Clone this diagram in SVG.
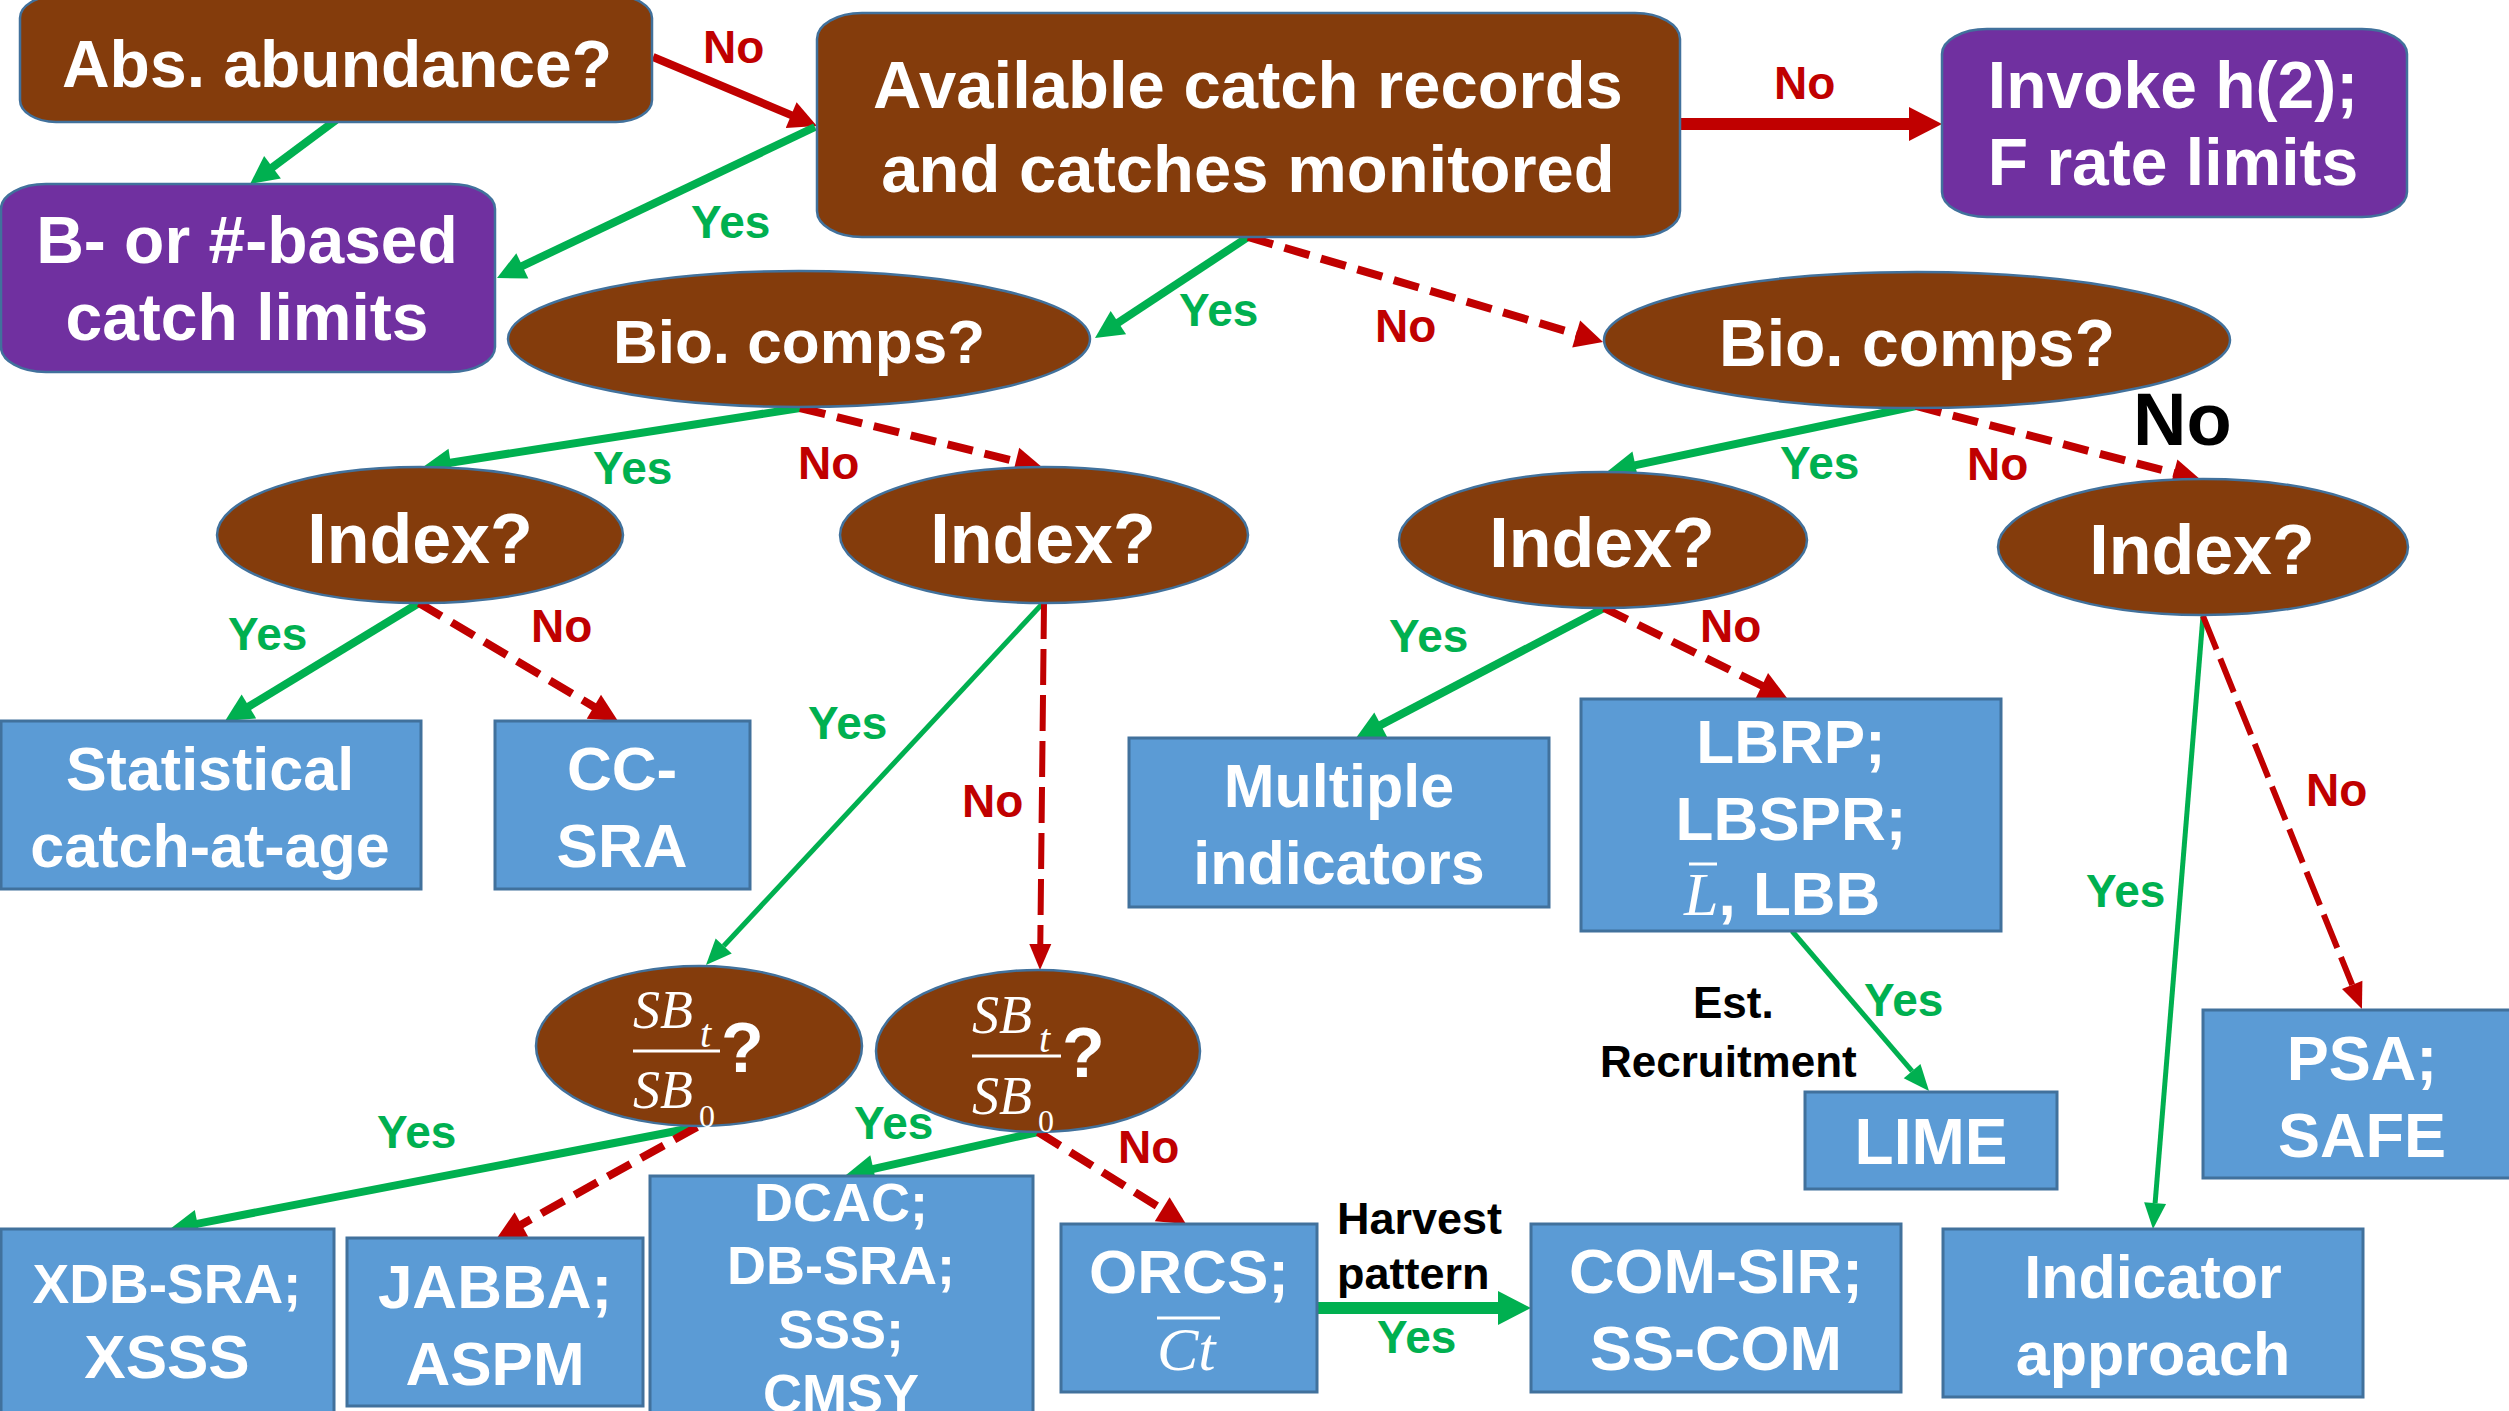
<svg xmlns="http://www.w3.org/2000/svg" width="2509" height="1411" viewBox="0 0 2509 1411">
<defs>
<style>
.brown{fill:#843C0C;stroke:#41719C;stroke-width:2.5}
.purple{fill:#7030A0;stroke:#41719C;stroke-width:2.5}
.leaf{fill:#5B9BD5;stroke:#41719C;stroke-width:3}
.t{font-family:"Liberation Sans",Arial,sans-serif;font-weight:bold;fill:#fff;text-anchor:middle}
.m{font-family:"Liberation Serif","Times New Roman",serif;font-style:italic;fill:#fff}
.q{font-family:"Liberation Sans",Arial,sans-serif;font-weight:bold;fill:#fff}
.g{stroke:#00B050;fill:none;stroke-width:8}
.gt{stroke:#00B050;fill:none;stroke-width:5}
.r{stroke:#C00000;fill:none;stroke-width:8}
.rd{stroke:#C00000;fill:none;stroke-width:8;stroke-dasharray:26 12}
.rl{stroke:#C00000;fill:none;stroke-width:6;stroke-dasharray:36 10}
.lab{font-family:"Liberation Sans",Arial,sans-serif;font-weight:bold;font-size:46px}
.yes{fill:#00B050}
.no{fill:#C00000}
.blk{fill:#000}
.bar{stroke:#fff;stroke-width:3}
</style>
<marker id="ag" markerUnits="userSpaceOnUse" markerWidth="30" markerHeight="30" refX="2" refY="14" orient="auto" overflow="visible"><path d="M0,0 L28,14 L0,28 Z" fill="#00B050"/></marker>
<marker id="ar" markerUnits="userSpaceOnUse" markerWidth="30" markerHeight="30" refX="2" refY="14" orient="auto" overflow="visible"><path d="M0,0 L28,14 L0,28 Z" fill="#C00000"/></marker>
<marker id="agt" markerUnits="userSpaceOnUse" markerWidth="28" markerHeight="24" refX="0" refY="11" orient="auto" overflow="visible"><path d="M0,0 L26,11 L0,22 Z" fill="#00B050"/></marker>
<marker id="art" markerUnits="userSpaceOnUse" markerWidth="28" markerHeight="24" refX="0" refY="11" orient="auto" overflow="visible"><path d="M0,0 L26,11 L0,22 Z" fill="#C00000"/></marker>
<marker id="agb" markerUnits="userSpaceOnUse" markerWidth="36" markerHeight="36" refX="2" refY="17" orient="auto" overflow="visible"><path d="M0,0 L33,17 L0,34 Z" fill="#00B050"/></marker>
<marker id="arb" markerUnits="userSpaceOnUse" markerWidth="36" markerHeight="36" refX="2" refY="17" orient="auto" overflow="visible"><path d="M0,0 L33,17 L0,34 Z" fill="#C00000"/></marker>
</defs>
<rect width="2509" height="1411" fill="#fff"/>

<g id="connectors">
<line class="g" x1="336" y1="120" x2="270.9" y2="168.5" marker-end="url(#ag)"/>
<line class="r" x1="653" y1="57" x2="793" y2="115.9" marker-end="url(#ar)"/>
<line class="g" x1="815" y1="127" x2="520.5" y2="266.8" marker-end="url(#ag)"/>
<line class="g" x1="1248" y1="237" x2="1116.7" y2="323.7" marker-end="url(#ag)"/>
<line class="rd" x1="1248" y1="237" x2="1578.1" y2="334.6" marker-end="url(#ar)"/>
<line stroke="#C00000" stroke-width="12" x1="1680" y1="124" x2="1911" y2="124" marker-end="url(#arb)"/>
<line class="g" x1="800" y1="408" x2="448.7" y2="463" marker-end="url(#ag)"/>
<line class="rd" x1="800" y1="408" x2="1017.8" y2="461.8" marker-end="url(#ar)"/>
<line class="g" x1="419" y1="603" x2="247.2" y2="707.5" marker-end="url(#ag)"/>
<line class="rd" x1="419" y1="603" x2="595.6" y2="707.7" marker-end="url(#ar)"/>
<line class="gt" x1="1043" y1="603" x2="723.7" y2="946" marker-end="url(#agt)"/>
<line class="rl" x1="1044" y1="603" x2="1040.3" y2="944" marker-end="url(#art)"/>
<line class="g" x1="1916" y1="406" x2="1633.4" y2="465.6" marker-end="url(#ag)"/>
<line class="rd" x1="1916" y1="406" x2="2175.8" y2="473.5" marker-end="url(#ar)"/>
<line class="g" x1="1604" y1="608" x2="1379" y2="725.9" marker-end="url(#ag)"/>
<line class="rd" x1="1604" y1="608" x2="1763.7" y2="686.5" marker-end="url(#ar)"/>
<line class="gt" x1="2203" y1="616" x2="2155.1" y2="1203.1" marker-end="url(#agt)"/>
<line class="rl" x1="2203" y1="616" x2="2352.2" y2="984.9" marker-end="url(#art)"/>
<line class="gt" stroke-width="6" x1="1792" y1="931" x2="1912.1" y2="1071.2" marker-end="url(#agt)"/>
<line class="g" x1="697" y1="1127" x2="195.5" y2="1224.1" marker-end="url(#ag)"/>
<line class="rd" x1="697" y1="1127" x2="519.7" y2="1225.4" marker-end="url(#ar)"/>
<line class="g" x1="1038" y1="1132" x2="871.4" y2="1169.3" marker-end="url(#ag)"/>
<line class="rd" x1="1038" y1="1132" x2="1163.9" y2="1210.3" marker-end="url(#ar)"/>
<line stroke="#00B050" stroke-width="12" x1="1317" y1="1308" x2="1500" y2="1308" marker-end="url(#agb)"/>
</g>

<g id="labels">
<text class="lab no" x="703" y="63">No</text>
<text class="lab yes" x="691" y="238">Yes</text>
<text class="lab yes" x="1179" y="326">Yes</text>
<text class="lab no" x="1375" y="342">No</text>
<text class="lab no" x="1774" y="99">No</text>
<text class="lab blk" x="2133" y="445" style="font-size:74px">No</text>
<text class="lab yes" x="593" y="484">Yes</text>
<text class="lab no" x="798" y="479">No</text>
<text class="lab yes" x="228" y="650">Yes</text>
<text class="lab no" x="531" y="642">No</text>
<text class="lab yes" x="808" y="739">Yes</text>
<text class="lab no" x="962" y="817">No</text>
<text class="lab yes" x="1780" y="479">Yes</text>
<text class="lab no" x="1967" y="480">No</text>
<text class="lab yes" x="1389" y="652">Yes</text>
<text class="lab no" x="1700" y="642">No</text>
<text class="lab yes" x="2086" y="907">Yes</text>
<text class="lab no" x="2306" y="806">No</text>
<text class="lab yes" x="1864" y="1016">Yes</text>
<text class="lab blk" x="1693" y="1018" style="font-size:44px">Est.</text>
<text class="lab blk" x="1600" y="1077" style="font-size:44px">Recruitment</text>
<text class="lab yes" x="377" y="1148">Yes</text>
<text class="lab yes" x="854" y="1139">Yes</text>
<text class="lab no" x="1118" y="1163">No</text>
<text class="lab blk" x="1337" y="1234" style="font-size:45px">Harvest</text>
<text class="lab blk" x="1337" y="1289" style="font-size:45px">pattern</text>
<text class="lab yes" x="1377" y="1353">Yes</text>
</g>

<g id="abs-abundance">
<rect class="brown" x="20" y="-4" width="632" height="126" rx="36" ry="22"/>
<text class="t" x="337" y="87" font-size="66">Abs. abundance?</text>
</g>
<g id="available-catch">
<rect class="brown" x="817" y="13" width="863" height="224" rx="45" ry="26"/>
<text class="t" x="1248" y="108" font-size="67">Available catch records</text>
<text class="t" x="1248" y="192" font-size="67">and catches monitored</text>
</g>
<g id="invoke-h2">
<rect class="purple" x="1942" y="29" width="465" height="188" rx="45" ry="25"/>
<text class="t" x="2173" y="108" font-size="66">Invoke h(2);</text>
<text class="t" x="2173" y="185" font-size="66">F rate limits</text>
</g>
<g id="b-based">
<rect class="purple" x="1" y="184" width="494" height="188" rx="45" ry="25"/>
<text class="t" x="247" y="263" font-size="66">B- or #-based</text>
<text class="t" x="247" y="340" font-size="66">catch limits</text>
</g>
<g id="bio-comps-1">
<ellipse class="brown" cx="799" cy="339" rx="291" ry="68"/>
<text class="t" x="799" y="363" font-size="62">Bio. comps?</text>
</g>
<g id="bio-comps-2">
<ellipse class="brown" cx="1917" cy="340" rx="313" ry="68"/>
<text class="t" x="1917" y="366" font-size="66">Bio. comps?</text>
</g>
<g id="index-1">
<ellipse class="brown" cx="420" cy="535" rx="203" ry="68"/>
<text class="t" x="420" y="563" font-size="70">Index?</text>
</g>
<g id="index-2">
<ellipse class="brown" cx="1044" cy="535" rx="204" ry="68"/>
<text class="t" x="1043" y="563" font-size="70">Index?</text>
</g>
<g id="index-3">
<ellipse class="brown" cx="1603" cy="540" rx="204" ry="68"/>
<text class="t" x="1602" y="567" font-size="70">Index?</text>
</g>
<g id="index-4">
<ellipse class="brown" cx="2203" cy="547" rx="205" ry="68"/>
<text class="t" x="2202" y="574" font-size="70">Index?</text>
</g>
<g id="sb-ratio-1">
<ellipse class="brown" cx="699" cy="1046" rx="163" ry="80"/>
<text class="m" x="633" y="1028" font-size="54">SB</text>
<text class="m" x="700" y="1047" font-size="40">t</text>
<line class="bar" x1="633" y1="1051" x2="720" y2="1051"/>
<text class="q" x="721" y="1072" font-size="70">?</text>
<text class="m" x="633" y="1108" font-size="54">SB</text>
<text class="m" x="699" y="1127" font-size="32" style="font-style:normal">0</text>
</g>
<g id="sb-ratio-2">
<ellipse class="brown" cx="1038" cy="1051" rx="162" ry="81"/>
<text class="m" x="972" y="1033" font-size="54">SB</text>
<text class="m" x="1039" y="1052" font-size="40">t</text>
<line class="bar" x1="972" y1="1056" x2="1061" y2="1056"/>
<text class="q" x="1062" y="1077" font-size="70">?</text>
<text class="m" x="972" y="1114" font-size="54">SB</text>
<text class="m" x="1038" y="1132" font-size="32" style="font-style:normal">0</text>
</g>
<g id="statistical-caa">
<rect class="leaf" x="1" y="721" width="420" height="168"/>
<text class="t" x="210" y="790" font-size="61">Statistical</text>
<text class="t" x="210" y="867" font-size="61">catch-at-age</text>
</g>
<g id="cc-sra">
<rect class="leaf" x="495" y="721" width="255" height="168"/>
<text class="t" x="622" y="790" font-size="62">CC-</text>
<text class="t" x="622" y="867" font-size="62">SRA</text>
</g>
<g id="multiple-indicators">
<rect class="leaf" x="1129" y="738" width="420" height="169"/>
<text class="t" x="1339" y="807" font-size="61">Multiple</text>
<text class="t" x="1339" y="884" font-size="61">indicators</text>
</g>
<g id="lbrp">
<rect class="leaf" x="1581" y="699" width="420" height="232"/>
<text class="t" x="1791" y="763" font-size="62">LBRP;</text>
<text class="t" x="1791" y="840" font-size="62">LBSPR;</text>
<text class="q" x="1684" y="915" font-size="62"><tspan class="m" style="font-weight:normal">L</tspan>, LBB</text>
<line class="bar" x1="1689" y1="864" x2="1717" y2="864"/>
</g>
<g id="psa-safe">
<rect class="leaf" x="2203" y="1010" width="320" height="168"/>
<text class="t" x="2362" y="1080" font-size="63">PSA;</text>
<text class="t" x="2362" y="1157" font-size="63">SAFE</text>
</g>
<g id="lime">
<rect class="leaf" x="1805" y="1092" width="252" height="97"/>
<text class="t" x="1931" y="1164" font-size="64">LIME</text>
</g>
<g id="indicator-approach">
<rect class="leaf" x="1943" y="1229" width="420" height="168"/>
<text class="t" x="2153" y="1298" font-size="61">Indicator</text>
<text class="t" x="2153" y="1375" font-size="61">approach</text>
</g>
<g id="com-sir">
<rect class="leaf" x="1531" y="1224" width="370" height="168"/>
<text class="t" x="1716" y="1293" font-size="63">COM-SIR;</text>
<text class="t" x="1716" y="1370" font-size="63">SS-COM</text>
</g>
<g id="orcs">
<rect class="leaf" x="1061" y="1224" width="256" height="168"/>
<text class="t" x="1189" y="1293" font-size="62">ORCS;</text>
<text class="m" x="1157" y="1370" font-size="62">Ct</text>
<line class="bar" x1="1157" y1="1318" x2="1220" y2="1318"/>
</g>
<g id="xdb-sra">
<rect class="leaf" x="1" y="1229" width="333" height="200"/>
<text class="t" x="167" y="1303" font-size="55">XDB-SRA;</text>
<text class="t" x="167" y="1378" font-size="62">XSSS</text>
</g>
<g id="jabba">
<rect class="leaf" x="347" y="1238" width="296" height="168"/>
<text class="t" x="495" y="1308" font-size="62">JABBA;</text>
<text class="t" x="495" y="1385" font-size="62">ASPM</text>
</g>
<g id="dcac">
<rect class="leaf" x="650" y="1176" width="383" height="260"/>
<text class="t" x="841" y="1221" font-size="54">DCAC;</text>
<text class="t" x="841" y="1284" font-size="54">DB-SRA;</text>
<text class="t" x="841" y="1348" font-size="54">SSS;</text>
<text class="t" x="841" y="1412" font-size="54">CMSY</text>
</g>
</svg>
